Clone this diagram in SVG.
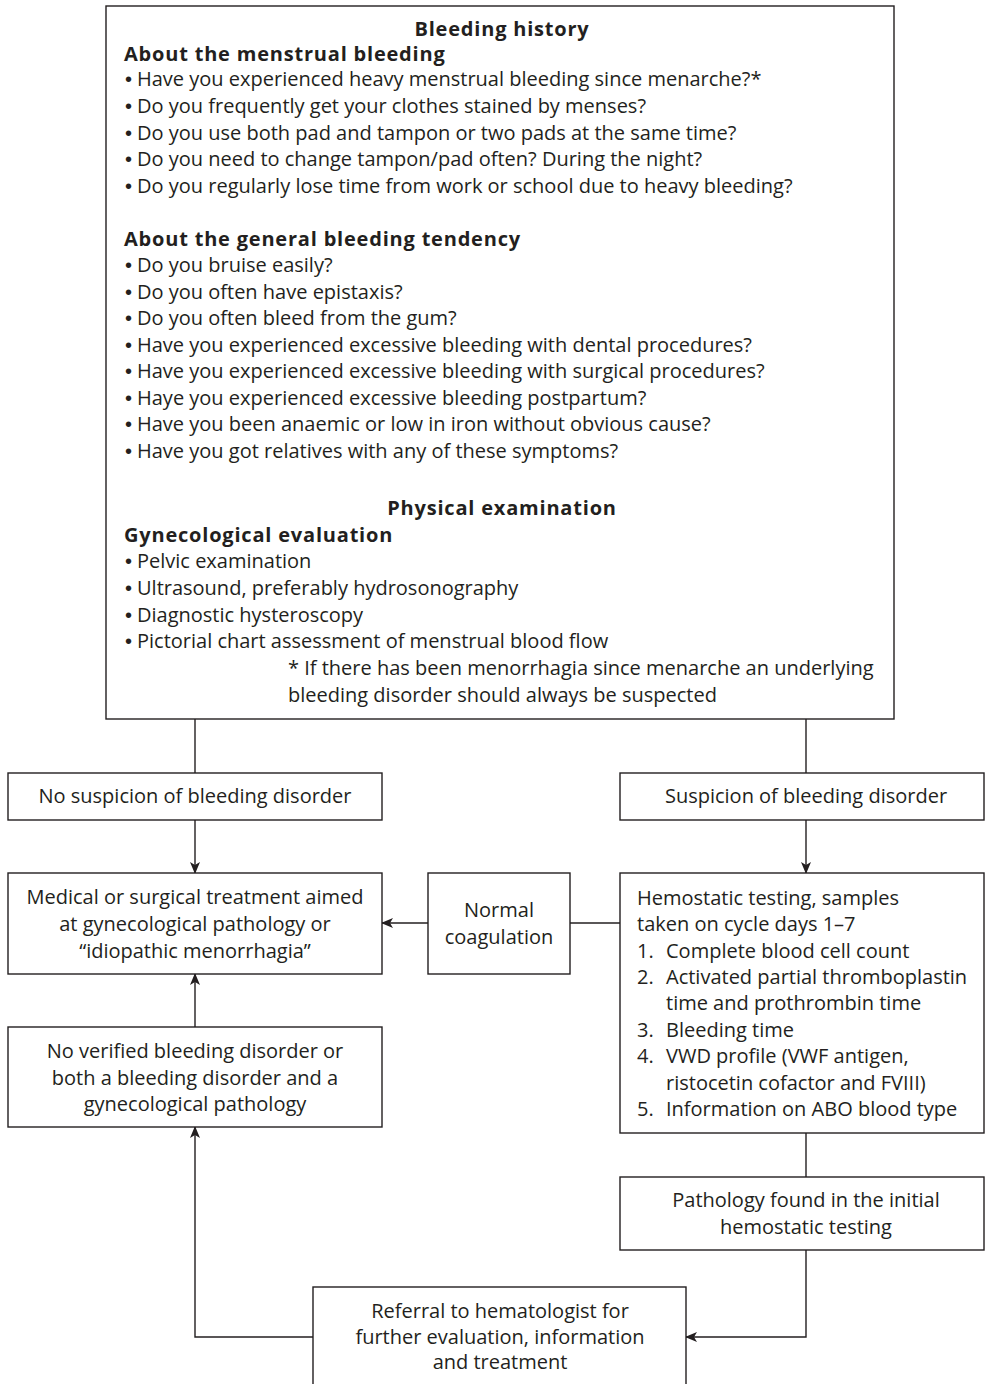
<svg xmlns="http://www.w3.org/2000/svg" width="985" height="1384" viewBox="0 0 985 1384">
  <style>
    .box { fill: #ffffff; stroke: #231f20; stroke-width: 1.4; }
    .wire { fill: none; stroke: #231f20; stroke-width: 1.4; }
    text { font-family: "Open Sans", "Liberation Sans", sans-serif; font-size: 20px; fill: #231f20; }
    .b { font-weight: bold; letter-spacing: 0.8px; }
    .c { text-anchor: middle; }
    .dot { font-family: "Liberation Sans", "DejaVu Sans", sans-serif; font-size: 20px; }
  </style>
  <defs>
    <marker id="arrow" viewBox="0 0 12 10" refX="11" refY="5" markerWidth="12" markerHeight="10" markerUnits="userSpaceOnUse" orient="auto">
      <path d="M0,0 L12,5 L0,10 L3,5 z" fill="#231f20"/>
    </marker>
  </defs>
  <rect width="985" height="1384" fill="#ffffff"/>

  <!-- connectors -->
  <g id="connectors">
    <line class="wire" x1="195" y1="719" x2="195" y2="773"/>
    <line class="wire" x1="806" y1="719" x2="806" y2="773"/>
    <line class="wire" x1="195" y1="820" x2="195" y2="873" marker-end="url(#arrow)"/>
    <line class="wire" x1="806" y1="820" x2="806" y2="873" marker-end="url(#arrow)"/>
    <line class="wire" x1="620" y1="923" x2="570" y2="923"/>
    <line class="wire" x1="428" y1="923" x2="382" y2="923" marker-end="url(#arrow)"/>
    <line class="wire" x1="195" y1="1027" x2="195" y2="974" marker-end="url(#arrow)"/>
    <line class="wire" x1="806" y1="1133" x2="806" y2="1177"/>
    <polyline class="wire" points="806,1250 806,1337 686,1337" marker-end="url(#arrow)"/>
    <polyline class="wire" points="313,1337 195,1337 195,1127" marker-end="url(#arrow)"/>
  </g>

  <!-- history and examination panel -->
  <g id="history">
    <rect class="box" x="106" y="6" width="788" height="713"/>
    <text class="b c" x="502" y="36">Bleeding history</text>
    <text class="b" x="124" y="61">About the menstrual bleeding</text>
    <text class="dot" x="125" y="86">•</text><text x="137" y="86">Have you experienced heavy menstrual bleeding since menarche?*</text>
    <text class="dot" x="125" y="112.8">•</text><text x="137" y="112.8">Do you frequently get your clothes stained by menses?</text>
    <text class="dot" x="125" y="139.6">•</text><text x="137" y="139.6">Do you use both pad and tampon or two pads at the same time?</text>
    <text class="dot" x="125" y="166.4">•</text><text x="137" y="166.4">Do you need to change tampon/pad often? During the night?</text>
    <text class="dot" x="125" y="193.2">•</text><text x="137" y="193.2">Do you regularly lose time from work or school due to heavy bleeding?</text>

    <text class="b" x="124" y="246">About the general bleeding tendency</text>
    <text class="dot" x="125" y="272">•</text><text x="137" y="272">Do you bruise easily?</text>
    <text class="dot" x="125" y="298.5">•</text><text x="137" y="298.5">Do you often have epistaxis?</text>
    <text class="dot" x="125" y="325">•</text><text x="137" y="325">Do you often bleed from the gum?</text>
    <text class="dot" x="125" y="351.5">•</text><text x="137" y="351.5">Have you experienced excessive bleeding with dental procedures?</text>
    <text class="dot" x="125" y="378">•</text><text x="137" y="378">Have you experienced excessive bleeding with surgical procedures?</text>
    <text class="dot" x="125" y="404.5">•</text><text x="137" y="404.5">Haye you experienced excessive bleeding postpartum?</text>
    <text class="dot" x="125" y="431">•</text><text x="137" y="431">Have you been anaemic or low in iron without obvious cause?</text>
    <text class="dot" x="125" y="457.5">•</text><text x="137" y="457.5">Have you got relatives with any of these symptoms?</text>

    <text class="b c" x="502" y="515">Physical examination</text>
    <text class="b" x="124" y="541.5">Gynecological evaluation</text>
    <text class="dot" x="125" y="568">•</text><text x="137" y="568">Pelvic examination</text>
    <text class="dot" x="125" y="594.8">•</text><text x="137" y="594.8">Ultrasound, preferably hydrosonography</text>
    <text class="dot" x="125" y="621.5">•</text><text x="137" y="621.5">Diagnostic hysteroscopy</text>
    <text class="dot" x="125" y="648">•</text><text x="137" y="648">Pictorial chart assessment of menstrual blood flow</text>
    <text x="288" y="675">* If there has been menorrhagia since menarche an underlying</text>
    <text x="288" y="701.5">bleeding disorder should always be suspected</text>
  </g>

  <g id="no-suspicion">
    <rect class="box" x="8" y="773" width="374" height="47"/>
    <text class="c" x="195" y="803">No suspicion of bleeding disorder</text>
  </g>

  <g id="suspicion">
    <rect class="box" x="620" y="773" width="364" height="47"/>
    <text class="c" x="806" y="803">Suspicion of bleeding disorder</text>
  </g>

  <g id="treatment">
    <rect class="box" x="8" y="873" width="374" height="101"/>
    <text class="c" x="195" y="904">Medical or surgical treatment aimed</text>
    <text class="c" x="195" y="931">at gynecological pathology or</text>
    <text class="c" x="195" y="958">“idiopathic menorrhagia”</text>
  </g>

  <g id="normal-coagulation">
    <rect class="box" x="428" y="873" width="142" height="101"/>
    <text class="c" x="499" y="917">Normal</text>
    <text class="c" x="499" y="944">coagulation</text>
  </g>

  <g id="hemostatic-testing">
    <rect class="box" x="620" y="873" width="364" height="260"/>
    <text x="637" y="904.5">Hemostatic testing, samples</text>
    <text x="637" y="931">taken on cycle days 1–7</text>
    <text x="637" y="957.5">1.</text><text x="666" y="957.5">Complete blood cell count</text>
    <text x="637" y="984">2.</text><text x="666" y="984">Activated partial thromboplastin</text>
    <text x="666" y="1010">time and prothrombin time</text>
    <text x="637" y="1036.5">3.</text><text x="666" y="1036.5">Bleeding time</text>
    <text x="637" y="1063">4.</text><text x="666" y="1063">VWD profile (VWF antigen,</text>
    <text x="666" y="1089.5">ristocetin cofactor and FVIII)</text>
    <text x="637" y="1116">5.</text><text x="666" y="1116">Information on ABO blood type</text>
  </g>

  <g id="no-verified">
    <rect class="box" x="8" y="1027" width="374" height="100"/>
    <text class="c" x="195" y="1058">No verified bleeding disorder or</text>
    <text class="c" x="195" y="1084.5">both a bleeding disorder and a</text>
    <text class="c" x="195" y="1111">gynecological pathology</text>
  </g>

  <g id="pathology-found">
    <rect class="box" x="620" y="1177" width="364" height="73"/>
    <text class="c" x="806" y="1207">Pathology found in the initial</text>
    <text class="c" x="806" y="1234">hemostatic testing</text>
  </g>

  <g id="referral">
    <rect class="box" x="313" y="1287" width="373" height="110"/>
    <text class="c" x="500" y="1318">Referral to hematologist for</text>
    <text class="c" x="500" y="1344">further evaluation, information</text>
    <text class="c" x="500" y="1369">and treatment</text>
  </g>
</svg>
